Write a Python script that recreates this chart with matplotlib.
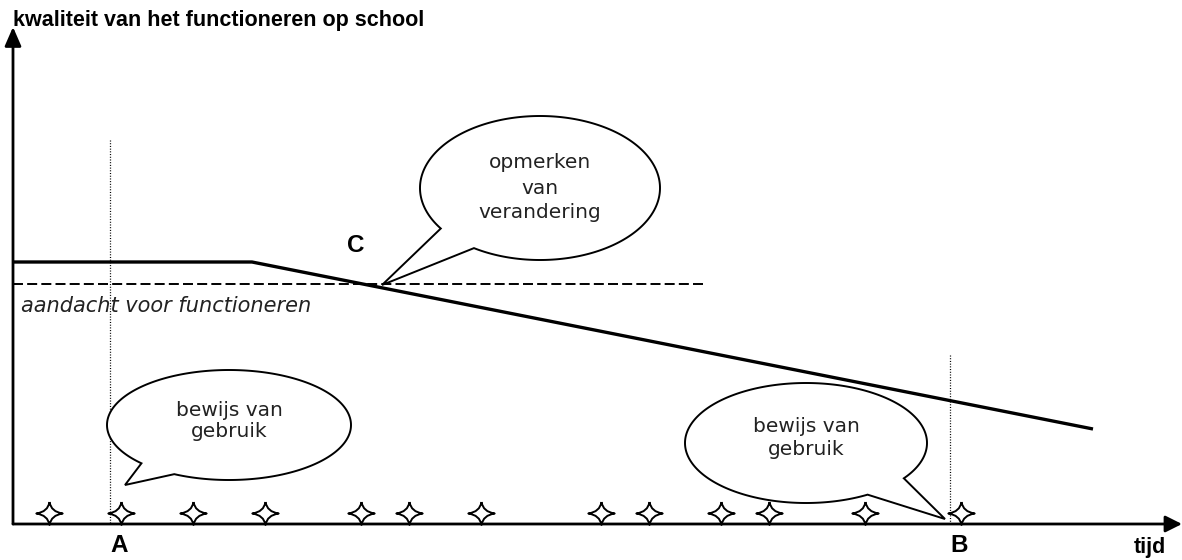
import numpy as np
from matplotlib import pyplot as plt
from matplotlib import rcParams
from matplotlib.path import Path
from matplotlib.patches import Polygon

rcParams["lines.scale_dashes"] = False

# diagram values (pixel space of the drawing, y grows downward)
star_x = [49, 121, 193, 265, 361, 409, 481, 601, 649, 721, 769, 865, 961]
star_y = 513

quality_x = [13, 252, 1093]
quality_y = [262, 262, 429]

threshold_x = [13, 707]
threshold_y = 284

marker_x = [109.5, 949.5]
marker_top = [140, 355]
marker_labels = ["A", "B"]

bubble_centers = [(229, 425), (806, 443), (540, 188)]
bubble_radii = [(122, 55), (121, 60), (120, 72)]
bubble_bases = [[(133, 467), (170, 478)], [(903, 478), (868, 495)], [(442, 228), (473, 249)]]
bubble_tips = [(125, 485), (945, 519), (382, 285)]
bubble_texts = ["bewijs van\ngebruik", "bewijs van\ngebruik", "opmerken\nvan\nverandering"]
bubble_text_y = [421, 438, 188]

axis_origin = (13, 524)
axis_end_x = 1182
axis_end_y = 27

title = "kwaliteit van het functioneren op school"
xlabel = "tijd"
threshold_label = "aandacht voor functioneren"


def star_marker():
    k = 0.14
    verts = [(0, 1), (k, k), (1.15, 0), (k, -k), (0, -1), (-k, -k), (-1.15, 0), (-k, k), (0, 1)]
    codes = [Path.MOVETO] + [Path.CURVE3, Path.CURVE3] * 4
    return Path(verts, codes)


def bubble(ax, center, radii, base, tip):
    cx, cy = center
    rx, ry = radii
    a1, a2 = [np.arctan2((by - cy) / ry, (bx - cx) / rx) for bx, by in base]
    if (a2 - a1) % (2 * np.pi) > np.pi:
        a1, a2 = a2, a1
    a_end = a1
    while a_end < a2:
        a_end += 2 * np.pi
    t = np.linspace(a2, a_end, 300)
    pts = np.column_stack([cx + rx * np.cos(t), cy + ry * np.sin(t)])
    pts = np.vstack([pts, tip])
    ax.add_patch(Polygon(pts, closed=True, facecolor="white", edgecolor="k", lw=1.4, zorder=4))


fig = plt.figure(figsize=(11.82, 5.6), dpi=100)
ax = fig.add_axes([0, 0, 1, 1])
ax.set_xlim(0, 1182)
ax.set_ylim(560, 0)
ax.axis("off")

# axes with arrows
ax.annotate("", xy=(axis_end_x, axis_origin[1]), xytext=axis_origin,
            arrowprops=dict(arrowstyle="-|>,head_length=1.0,head_width=0.5", lw=2.0,
                            color="k", shrinkA=0, shrinkB=0), zorder=3)
ax.annotate("", xy=(axis_origin[0], axis_end_y), xytext=axis_origin,
            arrowprops=dict(arrowstyle="-|>,head_length=1.15,head_width=0.5", lw=2.0,
                            color="k", shrinkA=0, shrinkB=0), zorder=3)

# quality line and attention threshold
ax.plot(quality_x, quality_y, color="k", lw=2.4, solid_capstyle="butt", zorder=2)
ax.plot(threshold_x, [threshold_y] * 2, color="k", lw=1.4, ls=(0, (7.2, 3.0)), zorder=2)
ax.text(21, 306, threshold_label, fontsize=15, style="italic", color="#222222",
        va="center", ha="left")

# moments A and B
for mx, top, lab in zip(marker_x, marker_top, marker_labels):
    ax.plot([mx, mx], [top, axis_origin[1]], color="k", lw=0.9, ls=(0, (0.75, 1.2)), zorder=1)
    ax.text(mx + 10, 546, lab, fontsize=17.5, fontweight="bold",
            family="Liberation Sans", ha="center", va="center")

ax.text(356, 245, "C", fontsize=17.5, fontweight="bold", family="Liberation Sans",
        ha="center", va="center")

# stars along the time axis
ax.plot(star_x, [star_y] * len(star_x), ls="none", marker=star_marker(), markersize=19,
        markerfacecolor="white", markeredgecolor="k", markeredgewidth=1.4, zorder=5)

# speech bubbles
spacing = [1.15, 1.25, 1.4]
for c, r, b, tp, txt, ty, ls in zip(bubble_centers, bubble_radii, bubble_bases, bubble_tips,
                                     bubble_texts, bubble_text_y, spacing):
    bubble(ax, c, r, b, tp)
    ax.text(c[0], ty, txt, fontsize=14.5, color="#222222", ha="center", va="center",
            multialignment="center", linespacing=ls, zorder=6)

ax.text(13, 26, title, fontsize=15.5, fontweight="bold", family="Liberation Sans",
        ha="left", va="baseline")
ax.text(1150, 548, xlabel, fontsize=15.5, fontweight="bold", family="Liberation Sans",
        ha="center", va="center")

fig.savefig("out.png", dpi=100)
